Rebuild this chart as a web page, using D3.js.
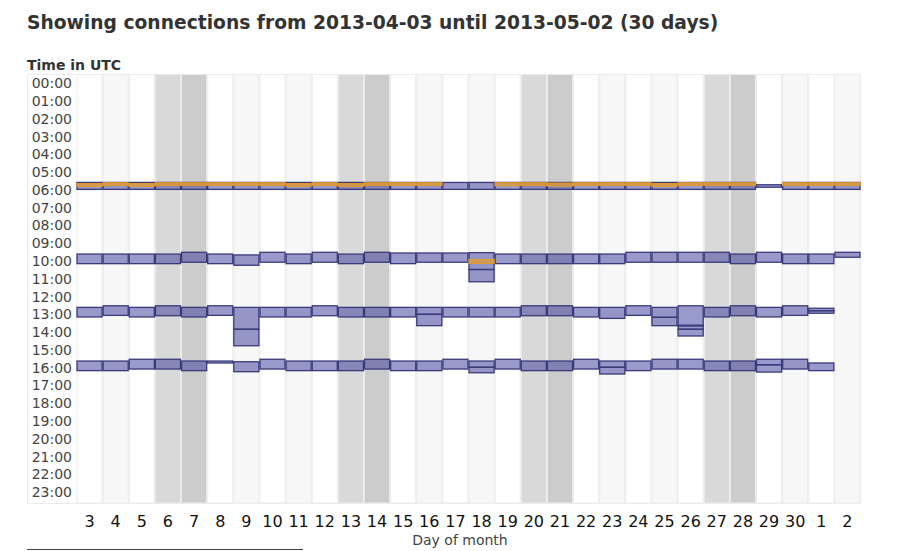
<!DOCTYPE html>
<html>
<head>
<meta charset="utf-8">
<script src="https://cdn.jsdelivr.net/npm/d3@7"></script>
<style>
  body { margin: 0; background: #fff; }
  svg { display: block; font-family: "DejaVu Sans", sans-serif; }
</style>
</head>
<body>
<svg width="900" height="551"></svg>
<script>
// days shown, with weekday (0 = Sunday) for the background stripes
var days = ['3','4','5','6','7','8','9','10','11','12','13','14','15','16','17',
            '18','19','20','21','22','23','24','25','26','27','28','29','30','1','2'];
var weekdays = [3,4,5,6,0,1,2,3,4,5,6,0,1,2,3,4,5,6,0,1,2,3,4,5,6,0,1,2,3,4];
var hourLabels = d3.range(24).map(h => (h < 10 ? '0' : '') + h + ':00');

// connection intervals: [day index, start hour, end hour]
var morning = [
  [0,6.08,6.47],[1,6.08,6.47],[2,6.08,6.47],[3,6.08,6.47],[4,6.08,6.47],[5,6.08,6.47],
  [6,6.08,6.47],[7,6.08,6.47],[8,6.08,6.47],[9,6.08,6.47],[10,6.08,6.47],[11,6.08,6.47],
  [12,6.08,6.47],[13,6.08,6.47],[14,6.08,6.47],[15,6.08,6.47],[16,6.08,6.47],[17,6.08,6.47],
  [18,6.08,6.47],[19,6.08,6.47],[20,6.08,6.47],[21,6.08,6.47],[22,6.08,6.47],[23,6.08,6.47],
  [24,6.08,6.47],[25,6.08,6.47],[26,6.21,6.35],[27,6.08,6.47],[28,6.08,6.47],[29,6.08,6.47]
];
var midMorning = [
  [0,10.11,10.65],[1,10.11,10.65],[2,10.11,10.65],[3,10.11,10.65],[4,10.01,10.57],
  [5,10.11,10.65],[6,10.16,10.74],[7,10.01,10.57],[8,10.11,10.65],[9,10.01,10.57],
  [10,10.11,10.65],[11,10.01,10.57],[12,10.05,10.65],[13,10.05,10.57],[14,10.05,10.57],
  [15,10.03,10.98],[15,10.98,11.67],[16,10.11,10.65],[17,10.11,10.65],[18,10.11,10.65],
  [19,10.11,10.65],[20,10.11,10.65],[21,10.01,10.57],[22,10.01,10.57],[23,10.01,10.57],
  [24,10.01,10.57],[25,10.11,10.65],[26,10.01,10.57],[27,10.11,10.65],[28,10.11,10.65],
  [29,10.01,10.29]
];
var afternoon = [
  [0,13.11,13.65],[1,13.02,13.56],[2,13.11,13.65],[3,13.02,13.58],[4,13.11,13.65],
  [5,13.02,13.56],[6,13.11,14.34],[6,14.34,15.27],[7,13.11,13.65],[8,13.11,13.65],
  [9,13.02,13.58],[10,13.11,13.65],[11,13.11,13.65],[12,13.11,13.65],[13,13.11,13.50],
  [13,13.50,14.14],[14,13.11,13.65],[15,13.11,13.65],[16,13.11,13.65],[17,13.02,13.58],
  [18,13.02,13.58],[19,13.11,13.65],[20,13.11,13.73],[21,13.02,13.56],[22,13.11,13.67],
  [22,13.67,14.14],[23,13.02,14.16],[23,14.11,14.34],[23,14.34,14.72],[24,13.11,13.65],
  [25,13.02,13.58],[26,13.11,13.65],[27,13.02,13.56],[28,13.16,13.30],[28,13.30,13.44]
];
var evening = [
  [0,16.13,16.67],[1,16.13,16.67],[2,16.03,16.58],[3,16.03,16.58],[4,16.13,16.67],
  [5,16.13,16.24],[6,16.17,16.73],[7,16.03,16.58],[8,16.13,16.67],[9,16.13,16.67],
  [10,16.13,16.67],[11,16.03,16.58],[12,16.13,16.67],[13,16.13,16.67],[14,16.03,16.58],
  [15,16.13,16.48],[15,16.48,16.79],[16,16.03,16.58],[17,16.13,16.67],[18,16.13,16.67],
  [19,16.03,16.58],[20,16.13,16.48],[20,16.48,16.86],[21,16.13,16.67],[22,16.03,16.58],
  [23,16.03,16.58],[24,16.13,16.67],[25,16.13,16.67],[26,16.03,16.34],[26,16.34,16.75],
  [27,16.03,16.58],[28,16.24,16.67]
];
// the other (orange) connections
var orange = [
  [0,6.15,6.30],[1,6.10,6.24],[2,6.15,6.30],[3,6.10,6.24],[4,6.10,6.24],[5,6.10,6.24],
  [6,6.10,6.24],[7,6.10,6.24],[8,6.15,6.30],[9,6.10,6.24],[10,6.15,6.30],[11,6.10,6.24],
  [12,6.10,6.24],[13,6.10,6.24],[15,10.42,10.63],[16,6.10,6.26],[17,6.10,6.24],
  [18,6.12,6.28],[19,6.10,6.24],[20,6.10,6.24],[21,6.10,6.24],[22,6.15,6.30],[23,6.10,6.24],
  [24,6.10,6.24],[25,6.10,6.24],[27,6.10,6.24],[28,6.10,6.24],[29,6.10,6.24]
];

var svg = d3.select('svg');

var x = d3.scaleBand()
    .domain(d3.range(days.length))
    .range([77, 860])
    .paddingInner(0.04);

var y = d3.scaleLinear()
    .domain([0, 24])
    .range([74.4, 500.9]);

function stripe(d, i) {
    var w = weekdays[i];
    if (w === 6) return '#d9d9d9';
    if (w === 0) return '#cccccc';
    if (w === 2 || w === 4) return '#f7f7f7';
    return '#ffffff';
}

// title
svg.append('text')
    .attr('x', 27).attr('y', 29)
    .attr('font-size', 18.7).attr('font-weight', 'bold')
    .attr('fill', '#333')
    .text('Showing connections from 2013-04-03 until 2013-05-02 (30 days)');

svg.append('text')
    .attr('x', 27).attr('y', 70)
    .attr('font-size', 14).attr('font-weight', 'bold')
    .attr('fill', '#333')
    .text('Time in UTC');

// frame
svg.append('rect')
    .attr('x', 27.5).attr('y', 74.5)
    .attr('width', 833).attr('height', 429)
    .attr('fill', '#fff')
    .attr('stroke', '#ececec');

// day columns
svg.append('g').selectAll('rect')
    .data(days)
    .enter().append('rect')
    .attr('x', (d, i) => x(i))
    .attr('y', y(0))
    .attr('width', x.bandwidth())
    .attr('height', 503 - y(0))
    .attr('fill', stripe)
    .attr('stroke', '#ebebeb')
    .attr('stroke-width', 1);

// hour labels
svg.append('g').selectAll('text')
    .data(hourLabels)
    .enter().append('text')
    .attr('x', 72)
    .attr('y', (d, i) => y(i + 0.5))
    .attr('dy', '0.36em')
    .attr('text-anchor', 'end')
    .attr('font-size', 14)
    .attr('fill', '#444')
    .text(d => d);

// day labels
svg.append('g').selectAll('text')
    .data(days)
    .enter().append('text')
    .attr('x', (d, i) => x(i) + x.bandwidth() / 2)
    .attr('y', 527)
    .attr('text-anchor', 'middle')
    .attr('font-size', 16)
    .attr('fill', '#111')
    .text(d => d);

svg.append('text')
    .attr('x', 460).attr('y', 545)
    .attr('text-anchor', 'middle')
    .attr('font-size', 14)
    .attr('fill', '#444')
    .text('Day of month');

svg.append('line')
    .attr('x1', 27).attr('x2', 303)
    .attr('y1', 549.5).attr('y2', 549.5)
    .attr('stroke', '#444').attr('stroke-width', 1);

// connections
var blue = morning.concat(midMorning, afternoon, evening);

svg.append('g').selectAll('rect')
    .data(blue)
    .enter().append('rect')
    .attr('x', d => x(d[0]))
    .attr('y', d => y(d[1]))
    .attr('width', x.bandwidth())
    .attr('height', d => y(d[2]) - y(d[1]))
    .attr('fill', 'rgba(51,51,153,0.5)')
    .attr('stroke', '#3a3a7a')
    .attr('stroke-width', 1.3);

svg.append('g').selectAll('rect')
    .data(orange)
    .enter().append('rect')
    .attr('x', d => x(d[0]))
    .attr('y', d => y(d[1]))
    .attr('width', x.bandwidth())
    .attr('height', d => y(d[2]) - y(d[1]))
    .attr('fill', 'rgba(235,160,40,0.6)')
    .attr('stroke', '#e39a26')
    .attr('stroke-width', 1.3);
</script>
</body>
</html>
